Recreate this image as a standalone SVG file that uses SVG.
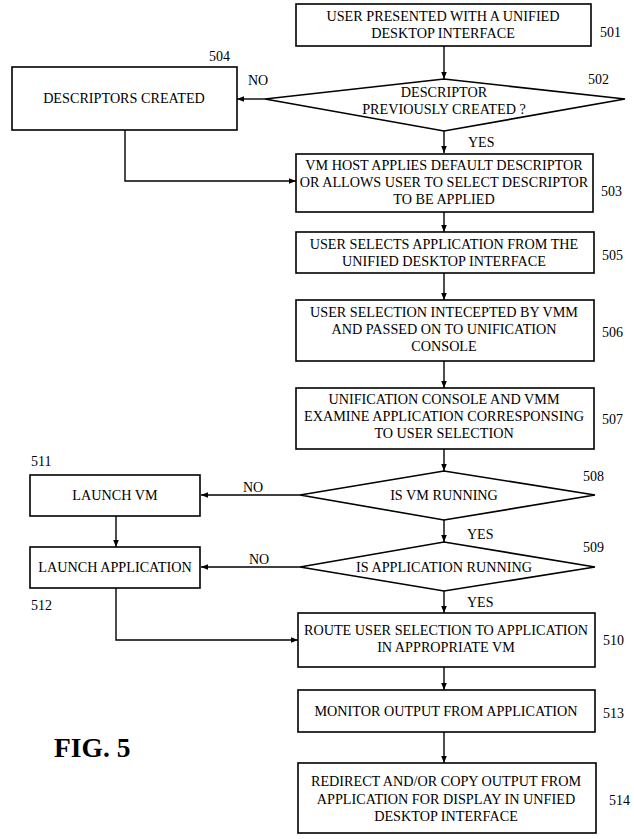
<svg xmlns="http://www.w3.org/2000/svg" width="634" height="839" viewBox="0 0 634 839">
<defs>
<marker id="ah" viewBox="0 0 10 10" refX="10" refY="5" markerWidth="7" markerHeight="7" markerUnits="userSpaceOnUse" orient="auto">
<path d="M0,1 L10,5 L0,9 z" fill="#000"/>
</marker>
<style>
.b{fill:#fff;stroke:#000;stroke-width:1.6}
.t{font-family:"Liberation Serif","Times New Roman",serif;font-size:14.2px;fill:#000;text-anchor:middle}
.n{font-family:"Liberation Serif","Times New Roman",serif;font-size:14px;fill:#000}
.c{fill:none;stroke:#000;stroke-width:1.4;marker-end:url(#ah)}
</style>
</defs>
<rect width="634" height="839" fill="#fff"/>
<g id="connectors">
<path class="c" d="M444,46 V79"/>
<path class="c" d="M265,99 H237"/>
<path class="c" d="M444,131 V153"/>
<path class="c" d="M125,130 V181 H296"/>
<path class="c" d="M444,212 V232"/>
<path class="c" d="M444,273 V300"/>
<path class="c" d="M444,361 V388"/>
<path class="c" d="M444,449 V471"/>
<path class="c" d="M300,495 H201"/>
<path class="c" d="M116,516 V547"/>
<path class="c" d="M444,520 V542"/>
<path class="c" d="M300,567 H201"/>
<path class="c" d="M444,591 V613"/>
<path class="c" d="M116,588 V640 H298"/>
<path class="c" d="M444,667 V690"/>
<path class="c" d="M444,732 V763"/>
</g>
<g id="n501"><rect class="b" x="296" y="4" width="295" height="42"/><text class="t" x="443" y="21">USER PRESENTED WITH A UNIFIED</text><text class="t" x="443" y="38">DESKTOP INTERFACE</text><text class="n" x="600" y="37">501</text></g>
<g id="n502"><path class="b" d="M265,99 L444,79 L625,99 L444,131 z"/><text class="t" x="444" y="97">DESCRIPTOR</text><text class="t" x="444" y="114">PREVIOUSLY CREATED ?</text><text class="n" x="588" y="84">502</text></g>
<g id="n504"><rect class="b" x="12" y="67" width="225" height="63"/><text class="t" x="124" y="103">DESCRIPTORS CREATED</text><text class="n" x="209" y="61">504</text></g>
<text class="n" x="248" y="85">NO</text>
<text class="n" x="468" y="147">YES</text>
<g id="n503"><rect class="b" x="296" y="154" width="297" height="58"/><text class="t" x="444" y="170">VM HOST APPLIES DEFAULT DESCRIPTOR</text><text class="t" x="444" y="187">OR ALLOWS USER TO SELECT DESCRIPTOR</text><text class="t" x="444" y="204">TO BE APPLIED</text><text class="n" x="601" y="196">503</text></g>
<g id="n505"><rect class="b" x="296" y="232" width="298" height="41"/><text class="t" x="444" y="249">USER SELECTS APPLICATION FROM THE</text><text class="t" x="444" y="266">UNIFIED DESKTOP INTERFACE</text><text class="n" x="602" y="260">505</text></g>
<g id="n506"><rect class="b" x="296" y="300" width="298" height="61"/><text class="t" x="444" y="317">USER SELECTION INTECEPTED BY VMM</text><text class="t" x="444" y="334">AND PASSED ON TO UNIFICATION</text><text class="t" x="444" y="351">CONSOLE</text><text class="n" x="602" y="337">506</text></g>
<g id="n507"><rect class="b" x="296" y="388" width="298" height="61"/><text class="t" x="444" y="404">UNIFICATION CONSOLE AND VMM</text><text class="t" x="444" y="421">EXAMINE APPLICATION CORRESPONSING</text><text class="t" x="444" y="438">TO USER SELECTION</text><text class="n" x="602" y="424">507</text></g>
<g id="n508"><path class="b" d="M300,495 L444,471 L595,495 L444,520 z"/><text class="t" x="444" y="500">IS VM RUNNING</text><text class="n" x="583" y="481">508</text></g>
<g id="n511"><rect class="b" x="30" y="475" width="170" height="41"/><text class="t" x="115" y="500">LAUNCH VM</text><text class="n" x="31" y="466">511</text></g>
<text class="n" x="243" y="492">NO</text>
<text class="n" x="467" y="539">YES</text>
<g id="n509"><path class="b" d="M300,567 L444,542 L595,567 L444,591 z"/><text class="t" x="444" y="572">IS APPLICATION RUNNING</text><text class="n" x="583" y="552">509</text></g>
<g id="n512"><rect class="b" x="30" y="547" width="170" height="41"/><text class="t" x="115" y="572">LAUNCH APPLICATION</text><text class="n" x="31" y="610">512</text></g>
<text class="n" x="249" y="564">NO</text>
<text class="n" x="467" y="607">YES</text>
<g id="n510"><rect class="b" x="298" y="613" width="297" height="54"/><text class="t" x="446" y="635">ROUTE USER SELECTION TO APPLICATION</text><text class="t" x="446" y="652">IN APPROPRIATE VM</text><text class="n" x="603" y="645">510</text></g>
<g id="n513"><rect class="b" x="298" y="690" width="297" height="42"/><text class="t" x="446" y="716">MONITOR OUTPUT FROM APPLICATION</text><text class="n" x="603" y="718">513</text></g>
<g id="n514"><rect class="b" x="298" y="763" width="298" height="70"/><text class="t" x="446" y="786">REDIRECT AND/OR COPY OUTPUT FROM</text><text class="t" x="446" y="804">APPLICATION FOR DISPLAY IN UNFIED</text><text class="t" x="446" y="821">DESKTOP INTERFACE</text><text class="n" x="609" y="805">514</text></g>
<text x="54" y="757" style="font-family:'Liberation Serif','Times New Roman',serif;font-size:27.5px;font-weight:bold">FIG. 5</text>
</svg>
